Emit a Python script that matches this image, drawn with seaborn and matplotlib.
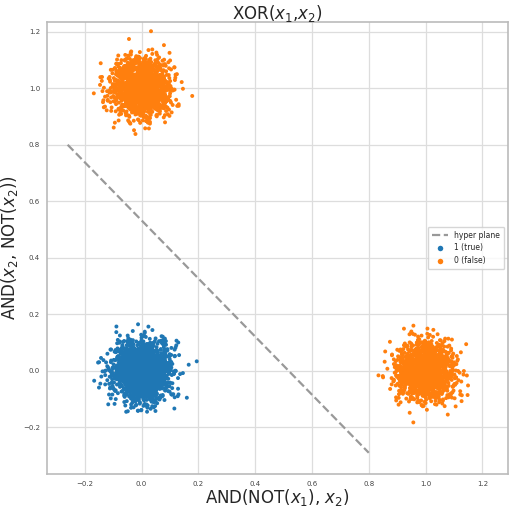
import numpy as np
import pandas as pd
import matplotlib
matplotlib.use("Agg")
import matplotlib.pyplot as plt
import seaborn as sns

# cluster centres (x, y), labels, spreads and point counts
center_x = [0.0, 0.0, 1.0]
center_y = [0.0, 1.0, 0.0]
cluster_label = ["1 (true)", "0 (false)", "0 (false)"]
cluster_std = [0.05, 0.05, 0.05]
cluster_n = [2000, 1500, 1500]

# hyper plane end points
plane_x = [-0.26, 0.80]
plane_y = [0.80, -0.29]

hue_order = ["1 (true)", "0 (false)"]

rng = np.random.default_rng(3)
frames = []
for cx, cy, lab, sd, n in zip(center_x, center_y, cluster_label, cluster_std, cluster_n):
    frames.append(pd.DataFrame({
        "x": cx + rng.normal(0, sd, n),
        "y": cy + rng.normal(0, sd, n),
        "label": lab,
    }))
df = pd.concat(frames, ignore_index=True)

sns.set_theme(style="whitegrid")
plt.rcParams["font.family"] = ["DejaVu Sans"]

fig = plt.figure(figsize=(5.10, 5.08), dpi=100)
ax = fig.add_axes([0.092, 0.067, 0.904, 0.89])

ax.plot(plane_x, plane_y, linestyle="--", color="#999999", lw=1.6,
        label="hyper plane", zorder=1)
sns.scatterplot(data=df, x="x", y="y", hue="label", hue_order=hue_order,
                palette=["#1f77b4", "#ff7f0e"], s=8, linewidth=0,
                ax=ax, zorder=2)

ax.set_xlim(-0.333, 1.29)
ax.set_ylim(-0.365, 1.235)
ax.set_xticks([-0.2, 0.0, 0.2, 0.4, 0.6, 0.8, 1.0, 1.2])
ax.set_yticks([-0.2, 0.0, 0.2, 0.4, 0.6, 0.8, 1.0, 1.2])
ax.tick_params(labelsize=5, length=3, width=0.6, color="#bbbbbb",
               labelcolor="#444444", pad=2)
ax.grid(True, color="#dddddd", lw=0.9)
for sp in ax.spines.values():
    sp.set_color("#bbbbbb")
    sp.set_linewidth(1.2)

ax.set_title(r"XOR($x_1$,$x_2$)", fontsize=12, pad=2)
ax.set_xlabel(r"AND(NOT($x_1$), $x_2$)", fontsize=12, labelpad=0)
ax.set_ylabel(r"AND($x_2$, NOT($x_2$))", fontsize=12, labelpad=2)

h, l = ax.get_legend_handles_labels()
order = ["hyper plane"] + hue_order
hh = [h[l.index(k)] for k in order]
ax.legend(hh, order, loc="center right", fontsize=5.5, frameon=True,
          bbox_to_anchor=(1.0, 0.50), borderpad=0.5, handlelength=2.2,
          markerscale=1.4)

fig.savefig("out.png", dpi=100)
